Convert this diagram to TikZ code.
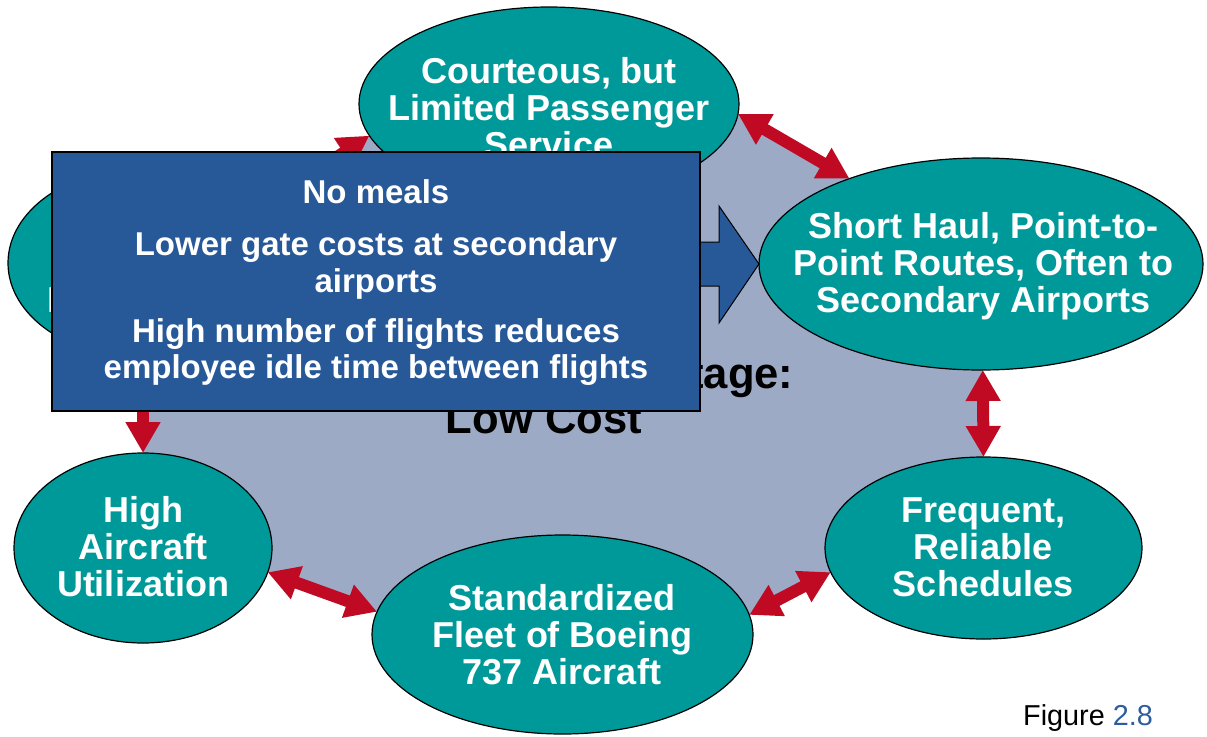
\documentclass[tikz,border=0pt]{standalone}
\usepackage{fontspec}
\setmainfont{Liberation Sans}
\usetikzlibrary{shapes.geometric,arrows.meta}
\pgfdeclarelayer{background}
\pgfsetlayers{background,main}
\definecolor{teal1}{RGB}{0,153,153}
\definecolor{boxblue}{RGB}{39,88,152}
\definecolor{arrred}{RGB}{192,10,35}
\definecolor{graybg}{RGB}{157,170,198}
\definecolor{figblue}{RGB}{46,92,158}
\begin{document}
\begin{tikzpicture}[x=1pt,y=-1pt,
  oval/.style={ellipse, draw=black, line width=1.2pt, fill=teal1, inner sep=0pt, outer sep=0pt},
  ovaltext/.style={anchor=base, align=center, text=white, inner sep=0pt,
    font=\fontsize{36}{37}\selectfont\bfseries},
  dbl/.style={draw=arrred, line width=12pt,
    arrows={Triangle[length=31pt,width=33pt]-Triangle[length=31pt,width=33pt]}},
  blockarrow/.style={fill=boxblue, draw=black, line width=1pt, line join=miter},
  infobox/.style={draw=black, line width=1.5pt, fill=boxblue, inner sep=0pt}]
\useasboundingbox (0,0) rectangle (1207,736);

% ellipses
\node[oval, minimum width=380pt, minimum height=194pt] (cour) at (549,104) {};
\node[oval, minimum width=444pt, minimum height=212pt] (short) at (981,264) {};
\node[oval, minimum width=317pt, minimum height=182pt] (freq) at (983.5,548) {};
\node[oval, minimum width=381pt, minimum height=199pt] (std) at (562.5,634.5) {};
\node[oval, minimum width=258pt, minimum height=190pt] (high) at (143,548) {};
\node[oval, minimum width=270pt, minimum height=190pt] (lean) at (143,263) {};

% ellipse texts (anchor = baseline of last line)
\node[ovaltext] (courT) at (549,157) {Courteous, but\\Limited Passenger\\Service};
\node[ovaltext] (shortT) at (983.5,312) {Short Haul, Point-to-\\Point Routes, Often to\\Secondary Airports};
\node[ovaltext] (freqT) at (983,596) {Frequent,\\Reliable\\Schedules};
\node[ovaltext] (stdT) at (562,684) {Standardized\\Fleet of Boeing\\737 Aircraft};
\node[ovaltext] (highT) at (143,596) {High\\Aircraft\\Utilization};
\node[ovaltext] (leanT) at (143,312) {Lean,\\Productive\\Employees};

% central text
\node[anchor=base, align=center, inner sep=0pt,
  font=\fontsize{43.6}{45}\selectfont\bfseries] (core) at (544,433)
  {Competitive Advantage:\\Low Cost};

% background polygon
\begin{pgfonlayer}{background}
\fill[white] (0,0) rectangle (1207,736);
\fill[graybg] (cour.190.2) -- (cour.-3.9) -- (short.147.9) -- (short.-89)
  -- (freq.90) -- (freq.189.6) -- (std.6.9) -- (std.173.3)
  -- (high.-11.8) -- (high.90) -- (lean.-90) -- (lean.25.96) -- cycle;
\end{pgfonlayer}

% red double arrows
\draw[dbl] (lean.25.96) -- (cour.190.2);
\draw[dbl] (cour.-3.9) -- (short.147.9);
\draw[dbl] (short.-89) -- (freq.90);
\draw[dbl] (freq.189.6) -- (std.6.9);
\draw[dbl] (std.173.3) -- (high.-11.8);
\draw[dbl] (high.90) -- (lean.-90);

% blue block arrow
\draw[blockarrow] (short.west) -- ++(-40,-58) -- ++(0,36) -- ++(-60,0)
  -- ++(0,44) -- ++(60,0) -- ++(0,37) -- cycle;

% info box
\node[infobox, minimum width=648pt, minimum height=259pt] (box) at (376,281.5) {};
\node[anchor=base, align=center, text=white, inner sep=0pt,
  font=\fontsize{33}{36.5}\selectfont\bfseries] (boxT) at (376,378.5)
  {No meals\\[15.5pt]Lower gate costs at secondary\\airports\\[13.5pt]High number of flights reduces\\employee idle time between flights};

% figure label
\node[anchor=base west, inner sep=0pt, font=\fontsize{28.8}{30}\selectfont] (fig) at (1023,725)
  {Figure \textcolor{figblue}{2.8}};
\end{tikzpicture}
\end{document}
